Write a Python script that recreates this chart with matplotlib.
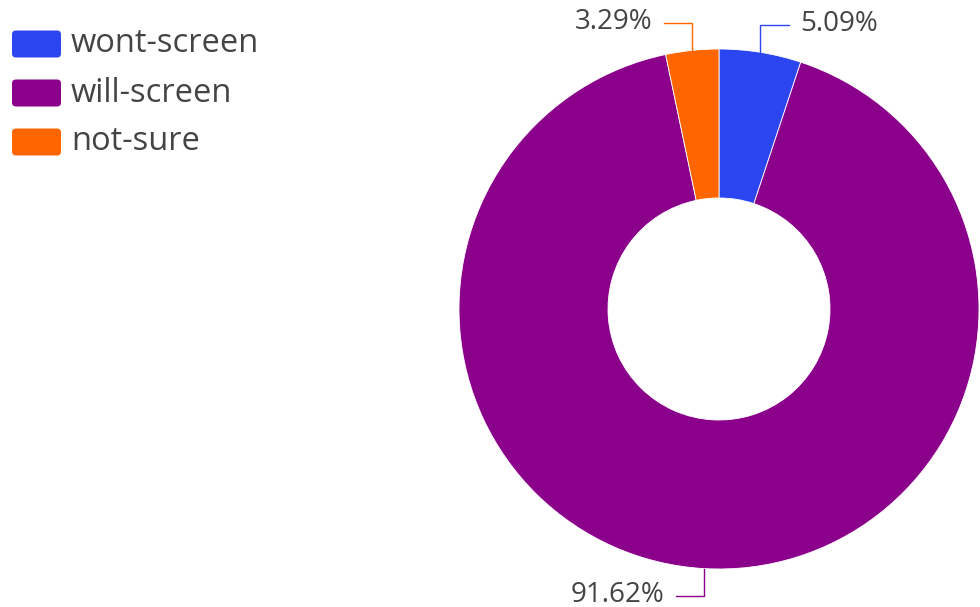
import matplotlib.pyplot as plt
import numpy as np
from matplotlib.patches import FancyBboxPatch

plt.rcParams['font.family'] = ['Open Sans', 'DejaVu Sans']

# screening intent breakdown
categories = ["wont-screen", "will-screen", "not-sure"]
shares = [5.09, 91.62, 3.29]
colors = ["#2b45f0", "#8b008b", "#ff6600"]
text_color = "#444444"

fig = plt.figure(figsize=(9.8, 6.07), dpi=100)

# donut axes: 520px square, centred at (719, 309) from top-left
ax = fig.add_axes([459 / 980, (607 - 309 - 260) / 607, 520 / 980, 520 / 607])
wedges, _ = ax.pie(shares, colors=colors, startangle=90, counterclock=False,
                   radius=1.0,
                   wedgeprops=dict(width=1 - 0.427, edgecolor="white", linewidth=0.6))
ax.set_xlim(-1, 1)
ax.set_ylim(-1, 1)
ax.set_aspect("equal")
ax.axis("off")

# elbow leader lines with percentage labels
for w, val, col in zip(wedges, shares, colors):
    ang = np.deg2rad((w.theta1 + w.theta2) / 2)
    x0, y0 = np.cos(ang), np.sin(ang)
    vy = 1 if y0 >= 0 else -1
    hx = 1 if x0 >= 0 else -1
    y1 = y0 + vy * 0.105
    x1 = x0 + hx * 0.11
    ax.plot([x0, x0, x1], [y0, y1, y1], color=col, lw=1.0, clip_on=False,
            solid_joinstyle="miter")
    ax.text(x1 + hx * 0.042, y1 + 0.004, f"{val:.2f}%", ha="left" if hx > 0 else "right",
            va="center", fontsize=20, color=text_color, clip_on=False)

# legend drawn in pixel coordinates
lg = fig.add_axes([0, 0, 1, 1], zorder=-1)
lg.set_xlim(0, 980)
lg.set_ylim(607, 0)
lg.axis("off")
for i, (name, col) in enumerate(zip(categories, colors)):
    yc = 44 + i * 49
    lg.add_patch(FancyBboxPatch((12, yc - 13.5), 49, 27,
                                boxstyle="round,pad=0,rounding_size=4",
                                facecolor=col, edgecolor="none"))
    lg.text(71, yc, name, ha="left", va="center", fontsize=23.5, color=text_color)

fig.savefig("out.png", dpi=100)
